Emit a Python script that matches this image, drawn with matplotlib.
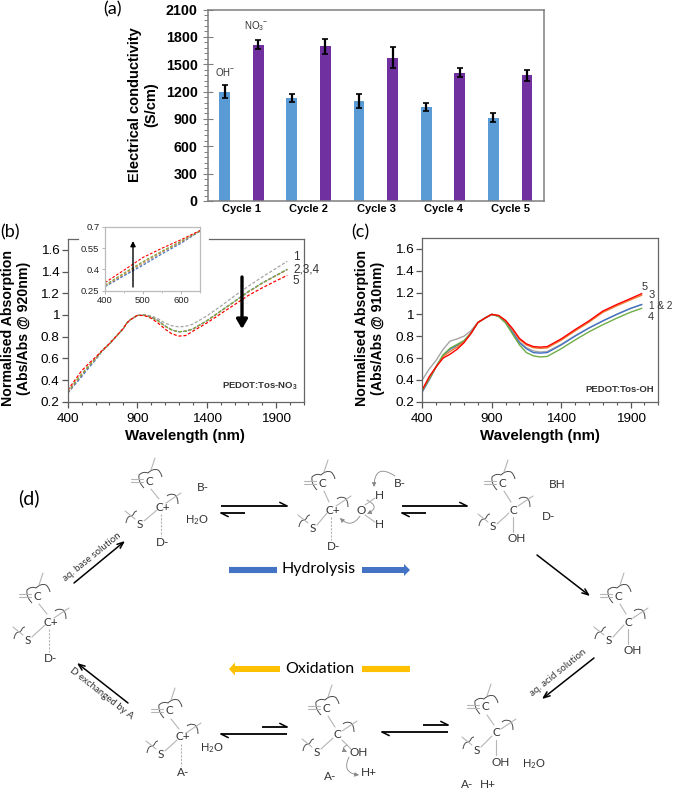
import numpy as np
import matplotlib
matplotlib.use("Agg")
import matplotlib.pyplot as plt
from matplotlib.path import Path
from matplotlib.patches import PathPatch, FancyArrowPatch
from matplotlib.ticker import MultipleLocator

plt.rcParams['font.family'] = ['Liberation Sans', 'DejaVu Sans']
plt.rcParams['mathtext.default'] = 'regular'

# (a) conductivity
cycles = ['Cycle 1', 'Cycle 2', 'Cycle 3', 'Cycle 4', 'Cycle 5']
oh_values = [1200, 1130, 1100, 1030, 915]
oh_errors = [75, 40, 78, 45, 53]
no3_values = [1715, 1695, 1570, 1405, 1380]
no3_errors = [50, 80, 115, 50, 60]

# (b) and (c) spectra, all on the same wavelength list
wavelength = [400, 450, 500, 550, 600, 650, 700, 750, 800, 825, 850, 900, 950, 1000,
              1050, 1100, 1150, 1200, 1250, 1300, 1400, 1500, 1600, 1700, 1800, 1900, 1980]

b_grey = [.285, .360, .440, .520, .592, .672, .732, .803, .873, .925, .955, .995, 1.0, .99,
          .965, .925, .900, .890, .895, .915, .990, 1.080, 1.175, 1.265, 1.350, 1.430, 1.495]
b_blue = [.278, .355, .430, .510, .585, .670, .730, .803, .873, .925, .955, .995, .998, .982,
          .948, .900, .862, .845, .850, .870, .945, 1.035, 1.125, 1.215, 1.295, 1.365, 1.420]
b_orange = [.285, .368, .450, .525, .595, .672, .733, .804, .874, .925, .955, .995, .998, .980,
            .946, .897, .860, .845, .850, .870, .945, 1.033, 1.122, 1.212, 1.292, 1.362, 1.418]
b_green = [.290, .375, .456, .530, .600, .672, .735, .805, .875, .925, .955, .995, .998, .980,
           .945, .895, .860, .845, .850, .870, .945, 1.035, 1.125, 1.215, 1.295, 1.365, 1.420]
b_red = [.307, .395, .485, .550, .610, .675, .735, .805, .875, .925, .955, .995, .995, .970,
         .925, .870, .825, .805, .810, .850, .925, 1.010, 1.095, 1.180, 1.250, 1.315, 1.365]

c_grey = [.400, .500, .580, .680, .755, .775, .800, .850, .925, .945, .965, 1.0, .985, .930,
          .840, .750, .695, .665, .655, .660, .725, .805, .875, .940, 1.000, 1.055, 1.090]
c_blue = [.290, .400, .520, .625, .680, .715, .755, .825, .925, .945, .965, 1.0, .985, .930,
          .835, .740, .685, .650, .645, .650, .720, .800, .875, .940, 1.000, 1.055, 1.090]
c_orange = [.305, .410, .520, .615, .660, .700, .750, .825, .925, .945, .965, 1.0, .988, .940,
            .860, .770, .720, .695, .688, .693, .763, .848, .928, 1.018, 1.078, 1.133, 1.175]
c_green = [.305, .410, .525, .630, .690, .725, .760, .830, .925, .945, .965, 1.0, .980, .920,
           .820, .720, .650, .620, .610, .615, .685, .765, .840, .905, .965, 1.020, 1.055]
c_red = [.310, .430, .520, .600, .635, .680, .740, .825, .925, .945, .965, 1.0, .990, .945,
         .870, .780, .730, .705, .700, .705, .775, .860, .940, 1.030, 1.090, 1.145, 1.190]

GREY = '#A5A5A5'
BLUE = '#4472C4'
ORANGE = '#ED7D31'
GREEN = '#70AD47'
RED = '#FF0000'
SPINE = '#7f7f7f'
INK = '#333333'
BOND = '#b5b5b5'
WAVE = '#4a4a4a'
DIAGRAM_FONT = 'Lato'

W, H = 673, 788
fig = plt.figure(figsize=(W / 100, H / 100), dpi=100)


def px_axes(left, top, right, bottom):
    return fig.add_axes([left / W, 1 - bottom / H, (right - left) / W, (bottom - top) / H])


# panel (a)
ax_a = px_axes(208, 9.5, 544, 201)
x_pos = np.arange(len(cycles))
err_style = dict(ecolor='black', elinewidth=1.6, capsize=2, capthick=1.2)
ax_a.bar(x_pos - 0.253, oh_values, 0.16, color='#5B9BD5', yerr=oh_errors, error_kw=err_style)
ax_a.bar(x_pos + 0.247, no3_values, 0.16, color='#7030A0', yerr=no3_errors, error_kw=err_style)
ax_a.set_xlim(-0.5, 4.5)
ax_a.set_ylim(0, 2100)
ax_a.set_xticks(x_pos)
ax_a.set_xticklabels(cycles, fontsize=8, fontweight='bold')
ax_a.yaxis.set_major_locator(MultipleLocator(300))
ax_a.yaxis.set_minor_locator(MultipleLocator(60))
ax_a.tick_params(axis='x', length=0, pad=2)
ax_a.tick_params(axis='y', which='major', direction='inout', length=7, width=0.8,
                 color=SPINE, labelsize=10.3, pad=4)
ax_a.tick_params(axis='y', which='minor', direction='out', length=3, width=0.7, color=SPINE)
for label in ax_a.get_yticklabels():
    label.set_fontweight('bold')
for side in ax_a.spines:
    ax_a.spines[side].set_color(SPINE)
    ax_a.spines[side].set_linewidth(1.1)


def spectrum_axes(left, right, top):
    ax = px_axes(left, top, right, 401.7)
    ax.set_xlim(400, 2100)
    ax.set_ylim(0.2, 1.7)
    ax.set_xticks([400, 900, 1400, 1900])
    ax.xaxis.set_minor_locator(MultipleLocator(100))
    ax.set_yticks([0.2, 0.4, 0.6, 0.8, 1.0, 1.2, 1.4, 1.6])
    ax.set_yticklabels(['0.2', '0.4', '0.6', '0.8', '1', '1.2', '1.4', '1.6'])
    ax.tick_params(axis='both', which='major', length=4, width=0.9, color='#555555',
                   labelsize=9.7, pad=2)
    ax.tick_params(axis='x', which='minor', length=2.5, width=0.8, color='#555555')
    ax.tick_params(axis='x', which='major', pad=4)
    for side in ax.spines:
        ax.spines[side].set_color('#666666')
        ax.spines[side].set_linewidth(0.9)
    return ax


# panel (b)
ax_b = spectrum_axes(67.7, 304, 239)
ax_b.spines['top'].set_visible(False)
b_series = [(b_grey, GREY), (b_blue, BLUE), (b_orange, ORANGE), (b_green, GREEN), (b_red, RED)]
for values, colour in b_series:
    ax_b.plot(wavelength, values, color=colour, lw=0.9, ls=(0, (2.5, 1.5)))

inset = px_axes(105, 227, 200, 290.7)
for values, colour in b_series:
    inset.plot(wavelength, values, color=colour, lw=0.8, ls=(0, (2.5, 1.5)))
inset.set_xlim(400, 650)
inset.set_ylim(0.25, 0.7)
inset.set_xticks([400, 500, 600])
inset.xaxis.set_minor_locator(MultipleLocator(50))
inset.set_yticks([0.25, 0.4, 0.55, 0.7])
inset.set_yticklabels(['0.25', '0.4', '0.55', '0.7'])
inset.tick_params(axis='both', which='major', labelsize=6.8, length=2, width=0.6,
                  color='#aaaaaa', labelcolor='#222222', pad=2)
inset.tick_params(axis='x', which='minor', length=1.5, width=0.5, color='#aaaaaa')
for side in inset.spines:
    inset.spines[side].set_color('#bbbbbb')
    inset.spines[side].set_linewidth(0.9)

# panel (c)
ax_c = spectrum_axes(422.3, 658.3, 238)
for values, colour in [(c_grey, GREY), (c_blue, BLUE), (c_orange, ORANGE), (c_green, GREEN), (c_red, RED)]:
    ax_c.plot(wavelength, values, color=colour, lw=1.0)

# everything else goes on one overlay in image pixels
ov = fig.add_axes([0, 0, 1, 1], facecolor='none')
ov.set_xlim(0, W)
ov.set_ylim(H, 0)
ov.axis('off')


def label(x, y, s, size=8, color=INK, font=None, **kw):
    kw.setdefault('ha', 'center')
    kw.setdefault('va', 'center')
    if font is not None:
        kw['family'] = font
    ov.text(x, y, s, fontsize=size, color=color, **kw)


# top line of (b), broken behind the inset
ov.plot([67.7, 78], [239, 239], color='#666666', lw=0.9)
ov.plot([209, 304], [239, 239], color='#666666', lw=0.9)

label(113, 9, '(a)', 13, 'black', DIAGRAM_FONT)
label(10, 232, '(b)', 13, 'black', DIAGRAM_FONT)
label(360, 232, '(c)', 13, 'black', DIAGRAM_FONT)
label(29, 498, '(d)', 14, 'black', DIAGRAM_FONT)

label(143, 105, 'Electrical conductivity\n(S/cm)', 10.5, 'black', fontweight='bold',
      rotation=90, linespacing=1.15)
label(225, 72, 'OH$^{-}$', 7)
label(256, 26, 'NO$_{3}$$^{-}$', 7)

label(16, 328, 'Normalised Absorption\n(Abs/Abs @ 920nm)', 10.2, 'black', fontweight='bold',
      rotation=90, linespacing=1.15)
label(370, 328, 'Normalised Absorption\n(Abs/Abs @ 910nm)', 10.2, 'black', fontweight='bold',
      rotation=90, linespacing=1.15)
label(185, 436, 'Wavelength (nm)', 10.8, 'black', fontweight='bold')
label(540, 436, 'Wavelength (nm)', 10.8, 'black', fontweight='bold')

label(296, 257, '1', 8.5)
label(293, 269, '2,3,4', 8.5, ha='left')
label(296, 281, '5', 8.5)
label(260, 386, 'PEDOT:Tos-NO$_{3}$', 6.8, fontweight='bold')
label(620, 389, 'PEDOT:Tos-OH', 6.8, fontweight='bold')
label(645, 287, '5', 8)
label(652, 295, '3', 8)
label(649, 306, '1 & 2', 7.2, ha='left')
label(651, 317, '4', 8)

# arrows on the spectra
ov.annotate('', xy=(242, 329), xytext=(242, 277),
            arrowprops=dict(arrowstyle='-|>,head_width=0.32,head_length=0.55', color='black',
                            lw=2.4, shrinkA=0, shrinkB=0))
ov.annotate('', xy=(133, 241), xytext=(133, 287),
            arrowprops=dict(arrowstyle='-|>,head_width=0.15,head_length=0.3', color='black',
                            lw=1, shrinkA=0, shrinkB=0))


def wave(x, y, pts, color=WAVE, lw=0.7):
    verts = [(x + px, y + py) for px, py in pts]
    codes = [Path.MOVETO] + [Path.CURVE3] * (len(verts) - 1)
    ov.add_patch(PathPatch(Path(verts, codes), fc='none', ec=color, lw=lw))


def bond(x0, y0, x1, y1, color=BOND, lw=0.8, ls='-'):
    ov.plot([x0, x1], [y0, y1], color=color, lw=lw, ls=ls, solid_capstyle='round')


def molecule(top, centre, sulfur, centre_text, tail=None, tail_text=None, dashed=False):
    tx, ty = top
    cx, cy = centre
    sx, sy = sulfur
    # top carbon and its fragments
    label(tx, ty, 'C', 8.5, font=DIAGRAM_FONT)
    bond(tx + 6, ty - 23, tx + 2, ty - 11)
    bond(tx - 18, ty - 2, tx - 6, ty - 2)
    bond(tx - 18, ty + 1, tx - 6, ty + 1)
    wave(tx, ty, [(-5, 7), (-11, 1), (-10, -6), (-6, -10), (-1, -8), (4, -13),
                  (9, -11), (12, -9), (13, -4)])
    bond(tx + 2, ty + 8, cx - 2, cy - 8)
    # centre
    label(cx + (2 if '+' in centre_text else 0), cy, centre_text, 8.5, font=DIAGRAM_FONT)
    bond(cx + 5, cy - 4, cx + 20, cy - 14)
    wave(cx, cy, [(6, -11), (9, -14), (14, -12), (17, -10), (17, -3)])
    # sulfur arm
    label(sx, sy, 'S', 8.5, font=DIAGRAM_FONT)
    bond(sx + 4, sy - 3, cx - 4, cy + 3)
    bond(sx - 15, sy - 13, sx - 5, sy - 5)
    wave(sx, sy, [(-14, -1), (-13, -8), (-9, -8), (-7, -8), (-6, -11), (-5, -13), (-3, -13)])
    # lower substituent
    if tail is not None:
        label(tail[0], tail[1], tail_text, 8.5, font=DIAGRAM_FONT)
        bond(cx, cy + 7, cx, tail[1] - 7, ls=(0, (2, 1.2)) if dashed else '-')


def half_arrow(x0, y0, x1, y1, side=-1):
    # straight line with a one sided head at (x1, y1)
    ov.plot([x0, x1], [y0, y1], color='black', lw=1.3, solid_capstyle='butt')
    d = np.sign(x1 - x0)
    ov.plot([x1, x1 - 7 * d], [y1, y1 + 3.5 * side], color='black', lw=1.1)


def long_arrow(x0, y0, x1, y1):
    ov.annotate('', xy=(x1, y1), xytext=(x0, y0),
                arrowprops=dict(arrowstyle='->,head_width=0.18,head_length=0.45', color='black',
                                lw=1.1, shrinkA=0, shrinkB=0))


def curl(x0, y0, x1, y1, rad):
    ov.add_patch(FancyArrowPatch((x0, y0), (x1, y1), connectionstyle=f'arc3,rad={rad}',
                                 arrowstyle='-|>,head_width=0.5,head_length=1.0', mutation_scale=2.5,
                                 lw=0.6, color='#888888', shrinkA=0, shrinkB=0))


# the eight states of the cycle
molecule((149, 481), (161, 507), (140, 524), 'C+', (163, 543), 'D-', dashed=True)
molecule((322, 483), (331, 510), (313, 528), 'C+', (334, 547), 'D-', dashed=True)
molecule((502, 483), (513, 510), (493, 527), 'C', (517, 539), 'OH')
molecule((37, 596), (49, 622), (28, 640), 'C+', (51, 659), 'D-', dashed=True)
molecule((618, 596), (628, 622), (609, 640), 'C', (633, 651), 'OH')
molecule((169, 711), (181, 737), (161, 754), 'C+', (183, 773), 'A-', dashed=True)
molecule((326, 708), (337, 735), (317, 752), 'C')
molecule((485, 707), (496, 733), (477, 750), 'C', (501, 762), 'OH')

label(203, 487, 'B-', 8.5, font=DIAGRAM_FONT)
label(197, 520, 'H$_{2}$O', 8, font=DIAGRAM_FONT)
label(400, 483, 'B-', 8.5, font=DIAGRAM_FONT)
label(361, 510, 'O', 8.5, font=DIAGRAM_FONT)
label(379, 495, 'H', 8.5, font=DIAGRAM_FONT)
label(379, 524, 'H', 8.5, font=DIAGRAM_FONT)
bond(365, 505, 375, 498)
bond(365, 515, 375, 522)
label(557, 484, 'BH', 8.5, font=DIAGRAM_FONT)
label(549, 516, 'D-', 8.5, font=DIAGRAM_FONT)
label(212, 748, 'H$_{2}$O', 8, font=DIAGRAM_FONT)
label(359, 752, 'OH', 8.5, font=DIAGRAM_FONT)
bond(342, 740, 351, 749)
label(369, 773, 'H+', 8.5, font=DIAGRAM_FONT)
label(330, 777, 'A-', 8.5, font=DIAGRAM_FONT)
label(534, 764, 'H$_{2}$O', 8, font=DIAGRAM_FONT)
label(467, 784, 'A-', 8.5, font=DIAGRAM_FONT)
label(488, 784, 'H+', 8.5, font=DIAGRAM_FONT)

# electron pushing curls
curl(395, 476, 374, 487, 0.9)
curl(367, 500, 367, 514, -1.0)
curl(360, 516, 340, 518, -0.6)
curl(347, 745, 347, 752, 1.0)
curl(349, 757, 359, 775, 0.7)

# reaction arrows
half_arrow(221, 506, 287, 506)
half_arrow(245, 513, 221, 513, 1)
half_arrow(402, 506, 467, 506)
half_arrow(426, 513, 402, 513, 1)
half_arrow(262, 727, 287, 727)
half_arrow(287, 734, 221, 734, 1)
half_arrow(423, 725, 448, 725)
half_arrow(448, 732, 382, 732, 1)
long_arrow(74, 583, 125, 541)
long_arrow(128, 703, 77, 663)
long_arrow(537, 555, 590, 596)
long_arrow(594, 658, 542, 699)

label(92, 557, 'aq. base solution', 7, font=DIAGRAM_FONT, rotation=39)
label(101, 693, 'D exchanged by A', 7, font=DIAGRAM_FONT, rotation=-38)
label(558, 673, 'aq. acid solution', 7, font=DIAGRAM_FONT, rotation=39)

# Hydrolysis / Oxidation banners
HYDRO = '#4472C4'
OXID = '#FFC000'
ov.plot([229, 277], [570, 570], color=HYDRO, lw=4.4, solid_capstyle='butt')
ov.arrow(362, 570, 48, 0, width=6, head_width=12, head_length=6, length_includes_head=True,
         color=HYDRO, lw=0)
label(319, 569, 'Hydrolysis', 11.5, 'black', DIAGRAM_FONT)
ov.arrow(280, 669, -51, 0, width=6, head_width=13, head_length=6, length_includes_head=True,
         color=OXID, lw=0)
ov.plot([362, 410], [669, 669], color=OXID, lw=4.4, solid_capstyle='butt')
label(320, 669, 'Oxidation', 11.5, 'black', DIAGRAM_FONT)

fig.savefig('out.png', dpi=100)
